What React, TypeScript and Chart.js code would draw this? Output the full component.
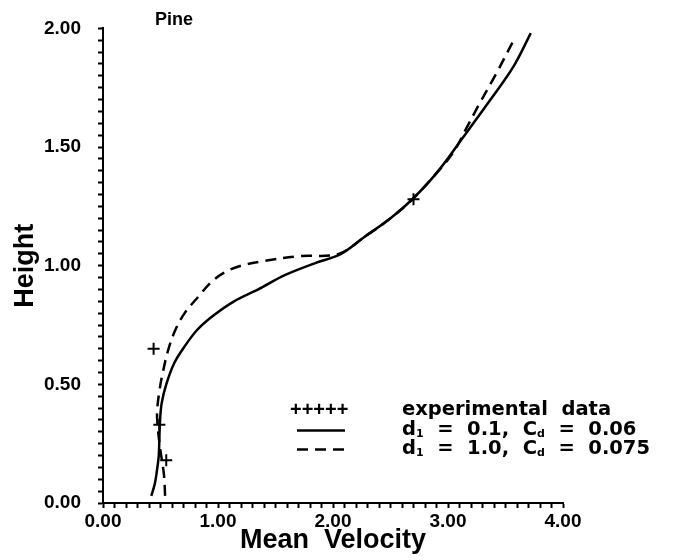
import { useEffect, useRef } from "react";
import { Chart, registerables } from "chart.js";

Chart.register(...registerables);

// ---- data ----
const expX = [0.44, 0.49, 0.55, 2.7];
const expY = [0.65, 0.33, 0.18, 1.28];

const solidX = [0.42, 0.45, 0.47, 0.485, 0.49, 0.495, 0.51, 0.55, 0.62, 0.71, 0.82, 0.96, 1.14, 1.35, 1.58, 1.84, 2.07, 2.27, 2.5, 2.69, 2.9, 3.13, 3.37, 3.57, 3.72];
const solidY = [0.03, 0.08, 0.14, 0.2, 0.27, 0.34, 0.42, 0.5, 0.59, 0.66, 0.73, 0.79, 0.85, 0.9, 0.96, 1.01, 1.05, 1.12, 1.2, 1.28, 1.39, 1.54, 1.7, 1.84, 1.98];

const dashX = [0.54, 0.53, 0.5, 0.48, 0.47, 0.49, 0.52, 0.57, 0.63, 0.71, 0.83, 0.94, 1.05, 1.2, 1.4, 1.7, 2.05, 2.27, 2.5, 2.69, 2.9, 3.05, 3.15, 3.27, 3.42, 3.56];
const dashY = [0.03, 0.12, 0.22, 0.3, 0.38, 0.47, 0.55, 0.65, 0.73, 0.8, 0.87, 0.93, 0.97, 1.0, 1.02, 1.04, 1.05, 1.12, 1.2, 1.28, 1.39, 1.48, 1.57, 1.68, 1.81, 1.94];

const xTickLabels = ["0.00", "1.00", "2.00", "3.00", "4.00"];
const yTickLabels = ["0.00", "0.50", "1.00", "1.50", "2.00"];

const chartTitle = "Pine";
const xTitle = "Mean  Velocity";
const yTitle = "Height";

const legendSymbols = ["+++++", "solid", "dash"];
const legendTexts: { t: string; sub?: boolean }[][] = [
  [{ t: "experimental  data" }],
  [{ t: "d" }, { t: "1", sub: true }, { t: "  =  0.1,  C" }, { t: "d", sub: true }, { t: "  =  0.06" }],
  [{ t: "d" }, { t: "1", sub: true }, { t: "  =  1.0,  C" }, { t: "d", sub: true }, { t: "  =  0.075" }],
];

const FONT = '"Liberation Sans", Arial, sans-serif';
const LEGEND_FONT = '"DejaVu Sans", "Liberation Sans", sans-serif';

const toPts = (xs: number[], ys: number[]) => xs.map((x, i) => ({ x, y: ys[i] }));

const isMajor = (v: number, step: number) => Math.abs(v / step - Math.round(v / step)) < 1e-6;

const overlayPlugin = {
  id: "overlay",
  afterDraw(chart: any) {
    const ctx = chart.ctx as CanvasRenderingContext2D;
    const a = chart.chartArea;
    ctx.save();
    ctx.fillStyle = "#000";
    ctx.strokeStyle = "#000";
    // title
    ctx.font = `bold 18px ${FONT}`;
    ctx.textBaseline = "middle";
    ctx.textAlign = "left";
    ctx.fillText(chartTitle, a.left + 52, a.top - 8);

    // legend
    const rowY = [a.top + 382, a.top + 402, a.top + 421];
    const symL = a.left + 194;
    const symR = a.left + 242;
    const textX = a.left + 299;
    legendSymbols.forEach((s, i) => {
      const y = rowY[i];
      ctx.lineWidth = 2.5;
      if (s === "solid") {
        ctx.setLineDash([]);
        ctx.beginPath();
        ctx.moveTo(symL, y);
        ctx.lineTo(symR, y);
        ctx.stroke();
      } else if (s === "dash") {
        ctx.setLineDash([11, 7]);
        ctx.beginPath();
        ctx.moveTo(symL, y);
        ctx.lineTo(symR, y);
        ctx.stroke();
        ctx.setLineDash([]);
      } else {
        ctx.font = `bold 20px ${FONT}`;
        ctx.textAlign = "left";
        ctx.fillText(s, a.left + 187, y);
      }
      let x = textX;
      ctx.textAlign = "left";
      legendTexts[i].forEach((seg) => {
        ctx.font = seg.sub ? `bold 11px ${LEGEND_FONT}` : `bold 19.5px ${LEGEND_FONT}`;
        ctx.fillText(seg.t, x, seg.sub ? y + 4 : y);
        x += ctx.measureText(seg.t).width;
      });
    });
    ctx.restore();
  },
};

export default function App() {
  const ref = useRef<HTMLCanvasElement | null>(null);
  useEffect(() => {
    if (!ref.current) return;
    const chart = new Chart(ref.current, {
      type: "scatter",
      data: {
        datasets: [
          {
            label: "experimental data",
            data: toPts(expX, expY),
            showLine: false,
            pointStyle: "cross",
            pointRadius: 6,
            pointBorderWidth: 2,
            borderColor: "#000",
            backgroundColor: "#000",
          },
          {
            label: "solid",
            data: toPts(solidX, solidY),
            showLine: true,
            borderColor: "#000",
            borderWidth: 2.5,
            pointRadius: 0,
            tension: 0.35,
          },
          {
            label: "dashed",
            data: toPts(dashX, dashY),
            showLine: true,
            borderColor: "#000",
            borderWidth: 2.5,
            borderDash: [11, 7],
            pointRadius: 0,
            tension: 0.35,
          },
        ],
      },
      options: {
        animation: false,
        responsive: false,
        maintainAspectRatio: false,
        layout: { padding: { left: 0, right: 121, top: 26, bottom: 0 } },
        plugins: { legend: { display: false }, tooltip: { enabled: false } },
        scales: {
          x: {
            type: "linear",
            min: 0,
            max: 4,
            border: { display: true, color: "#000", width: 2 },
            grid: { drawOnChartArea: false, color: "#000", tickLength: 5, tickWidth: 2, tickColor: "#000" },
            ticks: {
              stepSize: 0.1,
              autoSkip: false,
              maxRotation: 0,
              padding: 2,
              color: "#000",
              font: { family: FONT, size: 19, weight: "bold" },
              callback: (v: any) => (isMajor(Number(v), 1) ? xTickLabels[Math.round(Number(v))] : ""),
            },
            title: {
              display: true,
              text: xTitle,
              color: "#000",
              font: { family: FONT, size: 27, weight: "bold" },
              padding: { top: 0, bottom: 3 },
            },
            afterFit: (s: any) => {
              s.height = 57;
            },
          },
          y: {
            type: "linear",
            min: 0,
            max: 2,
            border: { display: true, color: "#000", width: 2 },
            grid: { drawOnChartArea: false, color: "#000", tickLength: 5, tickWidth: 2, tickColor: "#000" },
            ticks: {
              stepSize: 0.05,
              autoSkip: false,
              padding: 17,
              color: "#000",
              font: { family: FONT, size: 19, weight: "bold" },
              callback: (v: any) => (isMajor(Number(v), 0.5) ? yTickLabels[Math.round(Number(v) / 0.5)] : ""),
            },
            title: {
              display: true,
              text: yTitle,
              color: "#000",
              font: { family: FONT, size: 27, weight: "bold" },
              padding: { top: 9, bottom: 0 },
            },
            afterFit: (s: any) => {
              s.width = 103;
            },
          },
        },
      },
      plugins: [overlayPlugin],
    } as any);
    return () => chart.destroy();
  }, []);
  return (
    <div style={{ position: "fixed", left: 0, top: 0, width: 684, height: 560, background: "#fff" }}>
      <canvas ref={ref} width={684} height={560} style={{ width: 684, height: 560 }} />
    </div>
  );
}
